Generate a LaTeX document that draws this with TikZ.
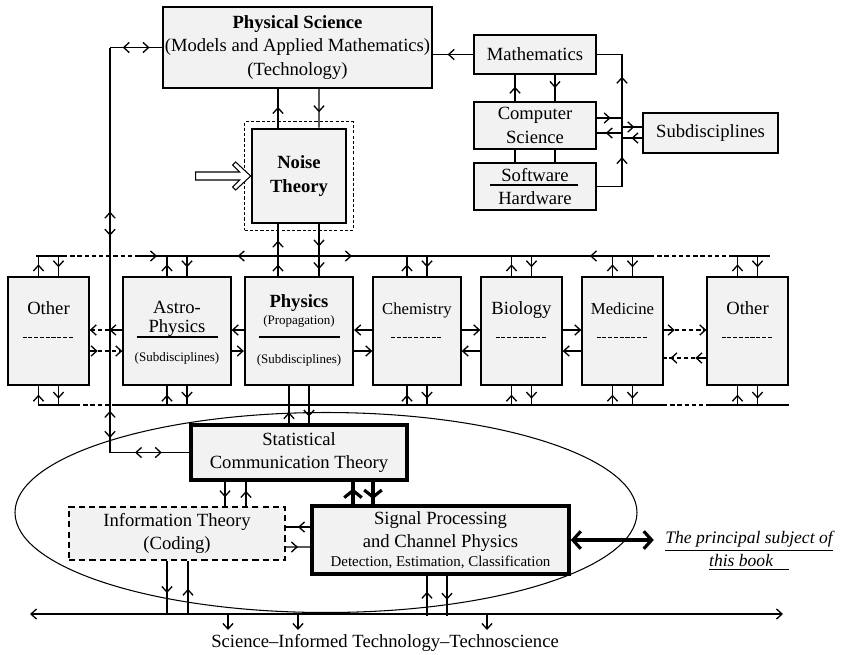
\documentclass[tikz,border=0pt]{standalone}
\usepackage{fontspec}
\setmainfont{Liberation Serif}
\usetikzlibrary{arrows.meta,calc,decorations.markings,fit}

\definecolor{boxfill}{RGB}{242,242,242}
\newcommand{\normsz}{\fontsize{10.6}{13.2}\selectfont}
\newcommand{\smallsz}{\fontsize{7.4}{9}\selectfont}
\newcommand{\detsz}{\fontsize{8.5}{10}\selectfont}

\tikzset{
    >={Straight Barb[length=3.2pt,width=5.8pt]},
    box/.style={draw, fill=boxfill, line width=0.75pt, inner sep=0pt, align=center, font=\normsz},
    thickbox/.style={box, line width=1.3pt},
    heavybox/.style={box, line width=2pt},
    wh/.style 2 args={minimum width=#1*0.02cm, minimum height=#2*0.02cm},
    conn/.style={line width=0.75pt},
    heavyconn/.style={line width=1.8pt, >={Straight Barb[length=4pt,width=10pt]}},
    arr/.style={postaction={decorate, decoration={markings, mark=at position #1 with {\arrow{>}}}}},
    rarr/.style={postaction={decorate, decoration={markings, mark=at position #1 with {\arrow{<}}}}},
    dashbus/.style={conn, dash pattern=on 2.5pt off 1.6pt},
    hyph/.style={line width=0.8pt, dash pattern=on 2.3pt off 1pt},
    lbl/.style={anchor=base, inner sep=0pt, font=\normsz},
}

\begin{document}
\begin{tikzpicture}[x=0.02cm, y=-0.02cm]
        \useasboundingbox (0,0) rectangle (842,654);

        % ellipse round the communication part
        \draw[line width=0.6pt] (326,512.5) ellipse [x radius=311, y radius=100];

        % the two buses
        \coordinate (tb0) at (36,256);
        \coordinate (tb1) at (63,256);
        \coordinate (tb2) at (137,256);
        \coordinate (tb3) at (650,256);
        \coordinate (tb4) at (730,256);
        \coordinate (tb5) at (770,256);
        \draw[conn] (tb0) -- (tb1);
        \draw[dashbus] (tb1) -- (tb2);
        \draw[conn, arr=0.039, rarr=0.2105, arr=0.419, rarr=0.897] (tb2) -- (tb3);
        \draw[dashbus] (tb3) -- (tb4);
        \draw[conn] (tb4) -- (tb5);

        \coordinate (bb0) at (39,405);
        \coordinate (bb1) at (76,405);
        \coordinate (bb2) at (114,405);
        \coordinate (bb3) at (663,405);
        \coordinate (bb4) at (710,405);
        \coordinate (bb5) at (789,405);
        \draw[conn] (bb0) -- (bb1);
        \draw[dashbus] (bb1) -- (bb2);
        \draw[conn] (bb2) -- (bb3);
        \draw[dashbus] (bb3) -- (bb4);
        \draw[conn] (bb4) -- (bb5);

        % top part
        \node[thickbox, wh={269}{81}] (physci) at (297.5,47.5) {\textbf{Physical Science}\\(Models and Applied Mathematics)\\(Technology)};
        \node[thickbox, wh={94}{94}, line width=1.5pt, font=\normsz\bfseries] (noise) at (299,176) {Noise\\Theory};
        \node[draw, dash pattern=on 1.8pt off 1.2pt, line width=0.7pt, fit=(noise), inner sep=6*0.02cm] (noiseframe) {};

        \node[box, wh={122}{39}] (math) at (535,54.5) {Mathematics};
        \node[box, wh={122}{47}] (comp) at (535,125.5) {Computer\\Science};
        \node[box, wh={122}{47}] (soft) at (535,186.5) {Software\\Hardware};
        \node[box, wh={135}{40}] (subd) at (710.5,133) {Subdisciplines};
        \draw[line width=0.7pt] ($(soft.center)+(-45,-1.5)$) -- ($(soft.center)+(43,-1.5)$);

        % row of sciences
        \foreach \n/\cx/\w in {other1/48.5/81, astro/177/108, chem/417/88, bio/521.5/81, med/622.5/81, other2/747.5/81} {
            \node[box, wh={\w}{108}] (\n) at (\cx,331) {};
        }
        \node[thickbox, wh={108}{108}] (phys) at (299,331) {};

        \foreach \b/\t/\s in {other1/Other/10.6, chem/Chemistry/9.5, bio/Biology/10.6, med/Medicine/9.5, other2/Other/10.6} {
            \node[lbl, font=\fontsize{\s}{12}\selectfont] (\b-title) at ($(\b.north)+(0,38)$) {\t};
            \draw[hyph] ($(\b.north)+(-26,61)$) -- ++(52,0);
        }
        \node[lbl] (astro-t1) at ($(astro.north)+(0,37)$) {Astro-};
        \node[lbl] (astro-t2) at ($(astro.north)+(0,56)$) {Physics};
        \draw[line width=1.1pt] ($(astro.north)+(-40.5,61)$) -- ++(81,0);
        \node[lbl, font=\smallsz] (astro-sub) at ($(astro.north)+(0,85)$) {(Subdisciplines)};
        \node[lbl, font=\normsz\bfseries] (phys-t1) at ($(phys.north)+(0,32)$) {Physics};
        \node[lbl, font=\smallsz] (phys-t2) at ($(phys.north)+(0,49)$) {(Propagation)};
        \draw[line width=1.1pt] ($(phys.north)+(-40.5,61)$) -- ++(81,0);
        \node[lbl, font=\smallsz] (phys-sub) at ($(phys.north)+(0,88)$) {(Subdisciplines)};

        % communication part
        \node[heavybox, wh={216}{55}] (stat) at (299,452.5) {Statistical\\Communication Theory};
        \node[box, dash pattern=on 3.5pt off 2.3pt, wh={216}{53}] (info) at (177,533.5) {Information Theory\\(Coding)};
        \node[heavybox, wh={257}{68}] (sig) at (440.5,540) {Signal Processing\\and Channel Physics\\[-2.4pt]{\detsz Detection, Estimation, Classification}};
        \node[font=\fontsize{10}{13.2}\selectfont\itshape, align=center, inner sep=0pt] (book) at (749,551) {\underline{The principal subject of}\\\underline{this book\hspace{0.9em}}};
        \node[lbl] (caption) at (385,647) {Science–Informed Technology–Technoscience};

        % hollow arrow into noise theory
        \draw[line width=0.6pt, fill=white] ($(noise.west)+(-55,-4)$) -- ++(44,0) -- ++(-7,-7) -- ++(3,-3) -- (noise.west) -- ++(-15,14) -- ++(-3,-3) -- ++(7,-7) -- ++(-44,0) -- cycle;

        % physical science, noise theory, physics
        \draw[conn, arr=0.54] ($(noise.north)+(-21,0)$) -- ($(physci.south)+(-19.5,0)$);
        \draw[conn, arr=0.6] ($(physci.south)+(21.5,0)$) -- ($(noise.north)+(20,0)$);
        \draw[conn, arr=0.22, arr=0.685] ($(phys.north)+(-21,0)$) -- ($(noise.south)+(-21,0)$);
        \draw[conn, arr=0.43, arr=0.87] ($(noise.south)+(20,0)$) -- ($(phys.north)+(20,0)$);
        \draw[conn, arr=0.3] ($(stat.north)+(-10,0)$) -- ($(phys.south)+(-10,0)$);
        \draw[conn, arr=0.82] ($(phys.south)+(10,0)$) -- ($(stat.north)+(10,0)$);

        % left loop
        \coordinate (ltop) at (110,47.5);
        \coordinate (lbot) at (110,452.5);
        \draw[conn, arr=0.755, rarr=0.377] (physci.west) -- (ltop);
        \draw[conn, rarr=0.423, arr=0.465, rarr=0.915, arr=0.964] (ltop) -- (lbot);
        \draw[conn, rarr=0.407, arr=0.654] (lbot) -- (stat.west);

        % mathematics cluster
        \draw[conn, arr=0.64] (math.west) -- (math.west -| physci.east);
        \draw[conn, arr=0.55] ($(comp.north)+(-20,0)$) -- ($(math.south)+(-20,0)$);
        \draw[conn, arr=0.5] ($(math.south)+(20,0)$) -- ($(comp.north)+(20,0)$);
        \draw[conn] ($(comp.south)+(-20,0)$) -- ($(soft.north)+(-20,0)$);
        \draw[conn] ($(comp.south)+(20,0)$) -- ($(soft.north)+(20,0)$);
        \coordinate (rvtop) at (622,54.5);
        \coordinate (rvbot) at (622,186.5);
        \draw[conn, arr=0.3, arr=0.74] (soft.east) -- (rvbot) -- (rvtop) -- (math.east);
        \draw[conn, arr=0.54] ($(comp.east)+(0,-7.5)$) -- ($(comp.east)+(26,-7.5)$);
        \draw[conn, arr=0.65] ($(comp.east)+(26,7.5)$) -- ($(comp.east)+(0,7.5)$);
        \draw[conn, arr=0.62] ($(subd.west)+(-21,-6)$) -- ($(subd.west)+(0,-6)$);
        \draw[conn, arr=0.52] ($(subd.west)+(0,5)$) -- ($(subd.west)+(-21,5)$);

        % stubs to the buses
        \foreach \b in {other1,astro,chem,bio,med,other2} {
            \draw[conn, arr=0.57] ($(\b.north)+(-10,0)$) -- ++(0,-21);
            \draw[conn, arr=0.57] ($(\b.north)+(10,-21)$) -- ++(0,21);
            \draw[conn, arr=0.55] ($(\b.south)+(-10,20)$) -- ++(0,-20);
            \draw[conn, arr=0.65] ($(\b.south)+(10,0)$) -- ++(0,20);
        }

        % links between neighbours
        \draw[conn, ->] ($(astro.west)+(0,-1)$) -- ++(-13,0);
        \draw[dashbus, ->] ($(astro.west)+(-13,-1)$) -- ($(other1.east)+(0,-1)$);
        \draw[conn, ->] ($(other1.east)+(0,20)$) -- ++(8,0);
        \draw[dashbus, ->] ($(other1.east)+(8,20)$) -- ($(astro.west)+(0,20)$);
        \draw[conn, ->] ($(phys.west)+(0,-1)$) -- ($(astro.east)+(0,-1)$);
        \draw[conn, ->] ($(astro.east)+(0,20)$) -- ($(phys.west)+(0,20)$);
        \draw[conn, ->] ($(chem.west)+(0,-1)$) -- ($(phys.east)+(0,-1)$);
        \draw[conn, ->] ($(phys.east)+(0,20)$) -- ($(chem.west)+(0,20)$);
        \draw[conn, ->] ($(chem.east)+(0,-1)$) -- ($(bio.west)+(0,-1)$);
        \draw[conn, ->] ($(bio.west)+(0,20)$) -- ($(chem.east)+(0,20)$);
        \draw[conn, ->] ($(bio.east)+(0,-1)$) -- ($(med.west)+(0,-1)$);
        \draw[conn, ->] ($(med.west)+(0,20)$) -- ($(bio.east)+(0,20)$);
        \draw[conn, ->] ($(med.east)+(0,-1)$) -- ++(11,0);
        \draw[dashbus, ->] ($(med.east)+(11,-1)$) -- ($(other2.west)+(0,-1)$);
        \draw[conn, ->] ($(other2.west)+(0,27)$) -- ++(-11,0);
        \draw[dashbus, arr=0.79] ($(other2.west)+(-11,27)$) -- ($(med.east)+(0,27)$);

        % statistical communication theory links
        \draw[conn, arr=0.63] ($(stat.south)+(-74,0)$) -- ($(info.north)+(48,0)$);
        \draw[conn, arr=0.63] ($(info.north)+(69,0)$) -- ($(stat.south)+(-53,0)$);
        \draw[heavyconn, arr=0.7] ($(sig.north)+(-87.5,0)$) -- ($(stat.south)+(54,0)$);
        \draw[heavyconn, arr=0.77] ($(stat.south)+(74,0)$) -- ($(sig.north)+(-67.5,0)$);
        \draw[conn, arr=0.5] ($(sig.west)+(0,-13)$) -- ($(info.east)+(0,-6.5)$);
        \draw[conn, arr=0.5] ($(info.east)+(0,13.5)$) -- ($(sig.west)+(0,7)$);
        \draw[line width=1.8pt, {Straight Barb[length=4.5pt,width=10pt]}-{Straight Barb[length=4.5pt,width=10pt]}] (sig.east) -- ++(83,0);

        % bottom axis
        \coordinate (axL) at (30,614);
        \coordinate (axR) at (783,614);
        \draw[conn, <->] (axL) -- (axR);
        \draw[conn, arr=0.6] ($(info.south)+(-10,0)$) -- ($(info.south)+(-10,54)$);
        \draw[conn, arr=0.48] ($(info.south)+(11,54)$) -- ($(info.south)+(11,0)$);
        \draw[conn, arr=0.6] ($(sig.south)+(-13.5,40)$) -- ($(sig.south)+(-13.5,0)$);
        \draw[conn, arr=0.6] ($(sig.south)+(6.5,0)$) -- ($(sig.south)+(6.5,40)$);
        \foreach \x in {228,298,487} {
            \draw[conn, ->] (\x,614) -- ++(0,16);
        }
\end{tikzpicture}
\end{document}
